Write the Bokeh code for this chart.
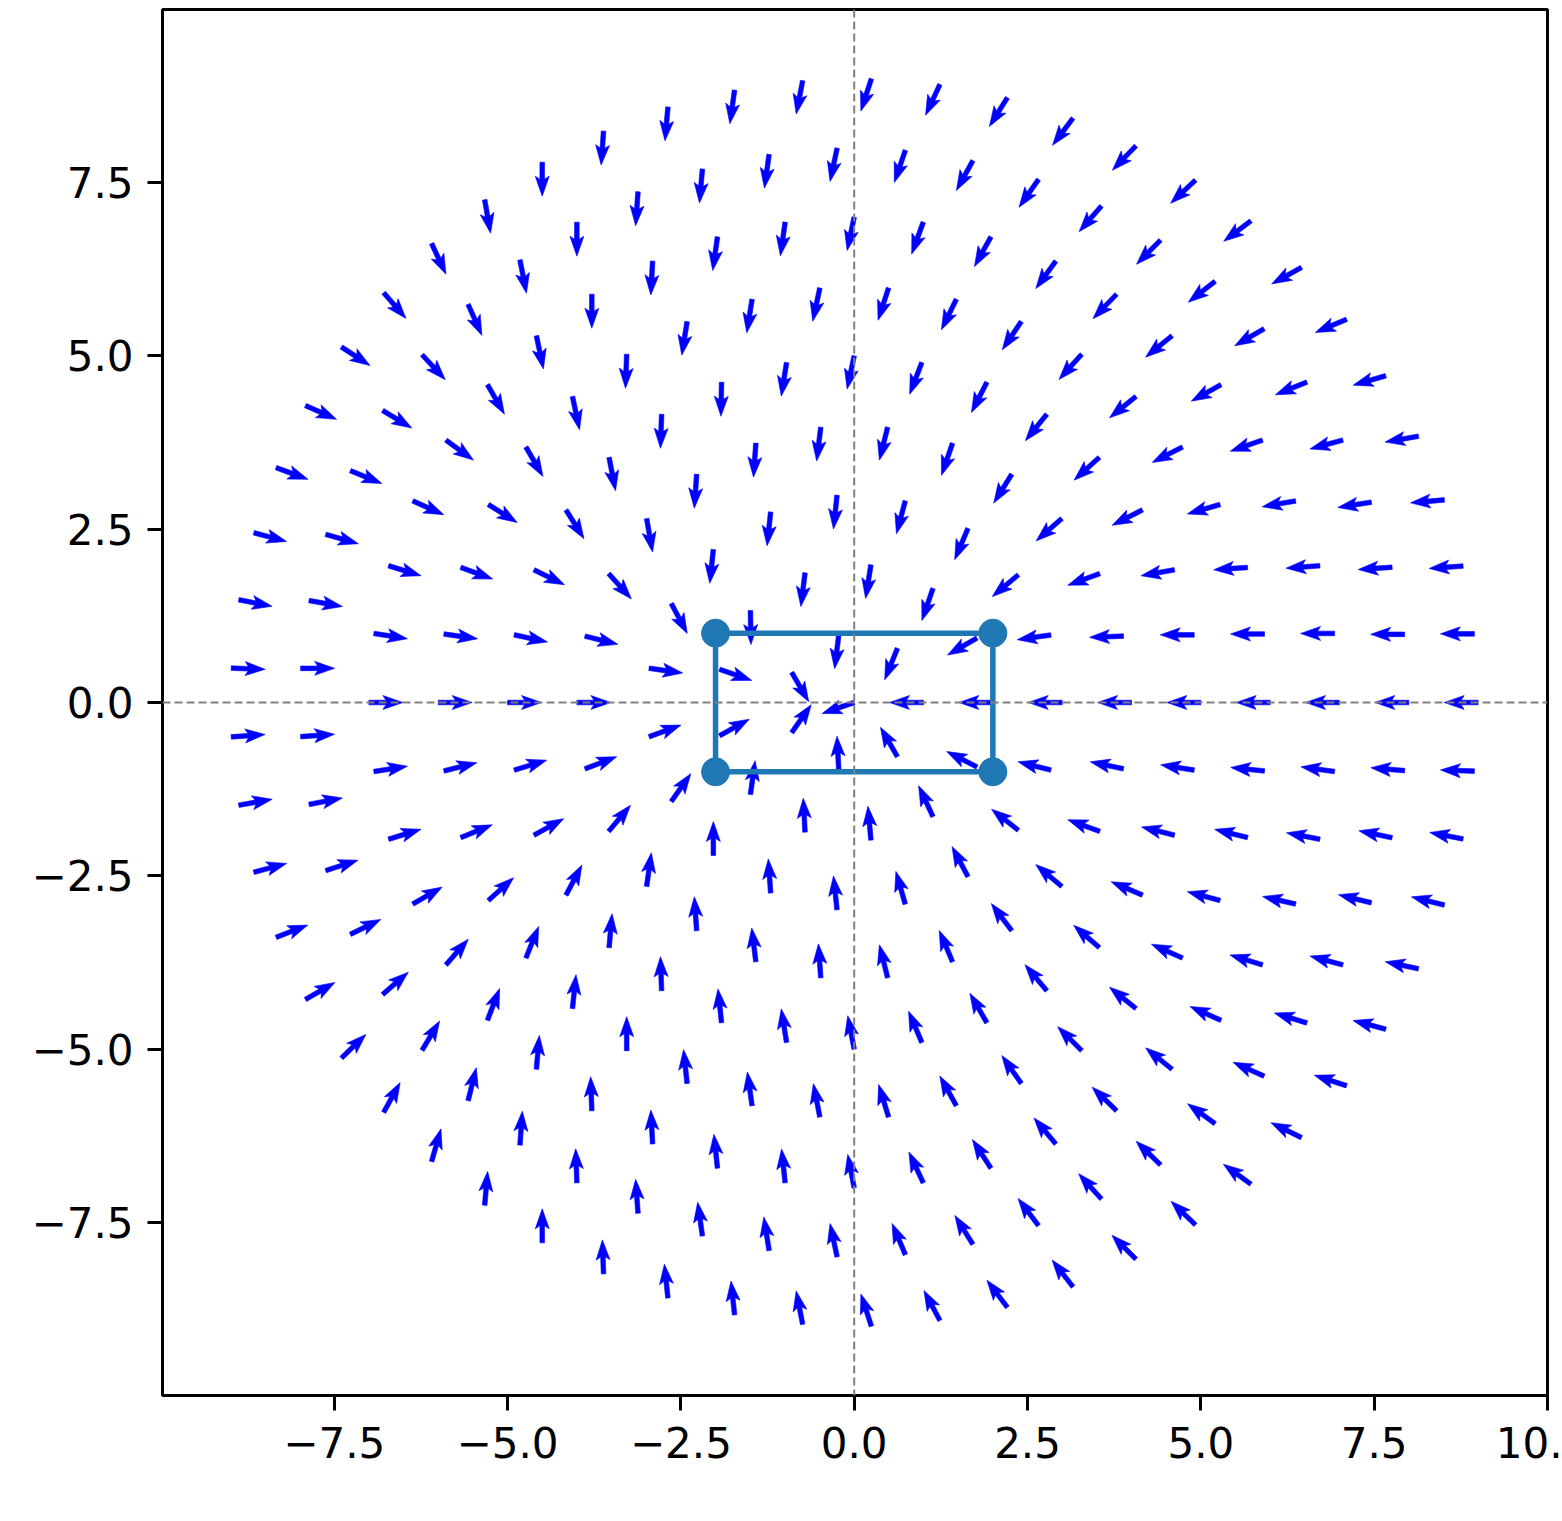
import numpy as np
from bokeh.plotting import figure
from bokeh.models import Range1d, Span, FixedTicker, CustomJSTickFormatter
from bokeh.embed import file_html
from bokeh.resources import INLINE

# ---- data ----
# arrows sit on concentric rings; each ring holds `count` evenly spaced points starting at angle 0
ring_radius = [0, 1, 2, 3, 4, 5, 6, 7, 8, 9]
ring_count = [1, 7, 13, 19, 26, 32, 38, 44, 51, 57]

# arrow directions (degrees, counter-clockwise from +x), one per point, in ring order
dir_r0 = [199]
dir_r1 = [180, 248, 263, 300, 55, 93, 120]
dir_r2 = [180, 210, 251, 261, 263, 271, 341, 29, 82, 93, 95, 115, 153]
dir_r3 = [180, 188, 220, 247, 255, 264, 264, 264, 298, 352, 20, 55, 90, 94, 96, 106, 118, 142, 166]
dir_r4 = [180, 182, 200, 221, 238, 251, 256, 263, 266, 266, 280, 312, 346, 0,
          21, 50, 82, 94, 97, 94, 104, 113, 127, 140, 160, 168]
dir_r5 = [180, 180, 190, 207, 222, 231, 243, 249, 258, 261, 269, 268, 281, 302, 334, 348,
          0, 17, 29, 62, 85, 92, 96, 99, 101, 113, 120, 130, 139, 157, 166, 171]
dir_r6 = [180, 180, 184, 196, 207, 219, 228, 236, 244, 252, 258, 261, 261, 268, 282, 300, 328, 340, 352,
          0, 14, 22, 42, 68, 84, 90, 96, 98, 101, 107, 119, 125, 135, 141, 156, 165, 166, 174]
dir_r7 = [180, 180, 184, 190, 199, 209, 219, 226, 234, 241, 250, 258, 262, 262, 267, 270, 282, 300,
          324, 336, 343, 351, 0, 9, 17, 30, 49, 69, 85, 92, 93, 96, 96, 101, 115, 123, 130, 136,
          141, 156, 163, 167, 169, 172]
dir_r8 = [180, 180, 184, 189, 195, 202, 210, 218, 225, 229, 235, 241, 251, 258, 262, 265, 266, 270,
          281, 294, 313, 329, 338, 344, 350, 0, 4, 11, 18, 26, 41, 59, 76, 86, 92, 94, 98, 99, 102,
          113, 122, 127, 132, 136, 144, 156, 163, 165, 166, 168, 175]
dir_r9 = [180, 180, 184, 185, 190, 196, 203, 209, 217, 223, 226, 233, 238, 245, 252, 259, 262, 265,
          266, 270, 280, 295, 311, 327, 336, 340, 345, 349, 358, 4, 10, 15, 21, 30, 44, 61, 74, 85,
          90, 92, 96, 96, 101, 108, 118, 127, 128, 135, 136, 144, 154, 162, 165, 168, 166, 169, 178]
ring_dirs = [dir_r0, dir_r1, dir_r2, dir_r3, dir_r4, dir_r5, dir_r6, dir_r7, dir_r8, dir_r9]

# rectangle through the four corner points
rect_x = [-2, 2, 2, -2, -2]
rect_y = [-1, -1, 1, 1, -1]

x_ticks = [-7.5, -5.0, -2.5, 0.0, 2.5, 5.0, 7.5, 10.0]
y_ticks = [-7.5, -5.0, -2.5, 0.0, 2.5, 5.0, 7.5]

# ---- figure ----
X0, X1 = -9.977, 10.0
Y0, Y1 = -9.996, 9.996
FW, FH = 1385, 1386

p = figure(frame_width=FW, frame_height=FH,
           x_range=Range1d(X0, X1), y_range=Range1d(Y0, Y1),
           output_backend="svg", toolbar_location=None,
           min_border_left=162, min_border_right=15, min_border_top=9, min_border_bottom=110)
p.xgrid.visible = False
p.ygrid.visible = False
p.outline_line_color = "black"
p.outline_line_width = 3
p.outline_line_alpha = 1.0
p.background_fill_color = "white"
p.border_fill_color = "white"

# ---- quiver arrows (tail at the ring point), fixed pixel size ----
ppu_x = FW / (X1 - X0)
ppu_y = FH / (Y1 - Y0)
L, HL, HA, SW, HW = 34.0, 20.0, 17.0, 2.3, 7.0
shape_u = [0, L - HA, L - HL, L, L - HL, L - HA, 0]
shape_v = [-SW, -SW, -HW, 0, HW, SW, SW]

xs, ys = [], []
for r, n, dirs in zip(ring_radius, ring_count, ring_dirs):
    for k in range(n):
        th = 2 * np.pi * k / n
        px, py = r * np.cos(th), r * np.sin(th)
        a = np.deg2rad(dirs[k])
        ca, sa = np.cos(a), np.sin(a)
        xs.append([px + (u * ca - v * sa) / ppu_x for u, v in zip(shape_u, shape_v)])
        ys.append([py + (u * sa + v * ca) / ppu_y for u, v in zip(shape_u, shape_v)])

p.patches(xs, ys, fill_color="#0000ff", line_color="#0000ff", line_width=0.6)

# ---- rectangle with corner markers ----
p.line(rect_x, rect_y, line_color="#1f77b4", line_width=5.5)
p.scatter(rect_x[:4], rect_y[:4], size=28, fill_color="#1f77b4", line_color="#1f77b4")

# ---- dashed axes lines ----
p.add_layout(Span(location=0, dimension="width", line_color="#808080", line_dash="8 4", line_width=2))
p.add_layout(Span(location=0, dimension="height", line_color="#808080", line_dash="8 4", line_width=2))

# ---- axes styling ----
fmt = CustomJSTickFormatter(code="""
if (tick >= 9.99) { return '10.'; }
return tick.toFixed(1).replace('-', '\u2212');
""")
for ax, ticks, standoff in ((p.xaxis[0], x_ticks, 16), (p.yaxis[0], y_ticks, 14)):
    ax.ticker = FixedTicker(ticks=ticks)
    ax.formatter = fmt
    ax.axis_line_color = None
    ax.major_tick_out = 15
    ax.major_tick_in = 0
    ax.major_tick_line_width = 3
    ax.major_tick_line_color = "black"
    ax.minor_tick_line_color = None
    ax.major_label_text_font = "DejaVu Sans"
    ax.major_label_text_font_size = "42px"
    ax.major_label_text_color = "black"
    ax.major_label_standoff = standoff

open("out.html", "w").write(file_html(p, INLINE))
